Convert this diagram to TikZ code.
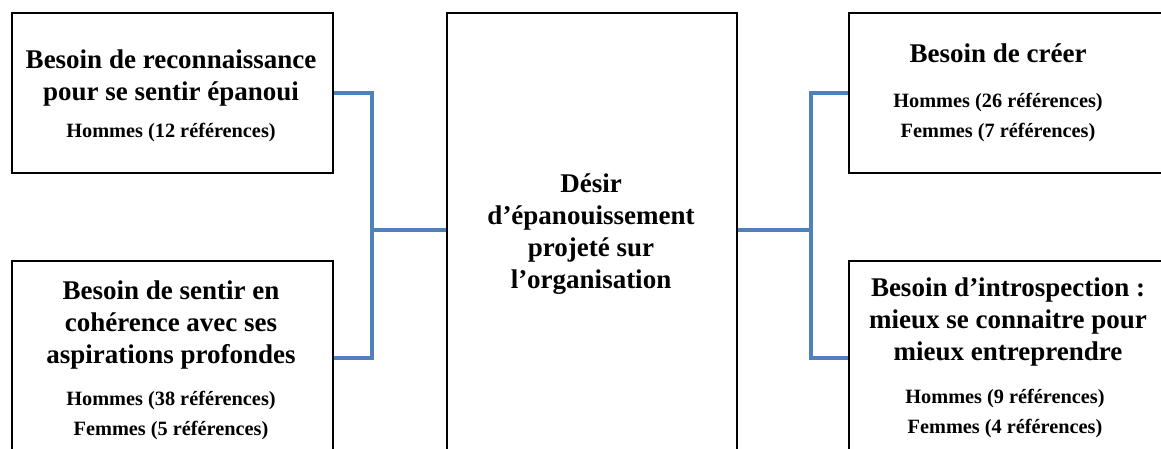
\documentclass[tikz,border=0pt]{standalone}
\usepackage{fontspec}
\setmainfont{Liberation Serif}
\usetikzlibrary{calc, positioning}
\definecolor{linkblue}{HTML}{4F81BD}

\begin{document}
\begin{tikzpicture}[x=1pt, y=-1pt,
  box/.style={draw, line width=1.6pt, anchor=north west, inner sep=0pt},
  link/.style={line width=4pt, linkblue},
  titre/.style={font=\fontsize{27}{32}\selectfont\bfseries, align=center, anchor=base, inner sep=0pt},
  refs/.style={font=\fontsize{20.3}{30}\selectfont\bfseries, align=center, anchor=base, inner sep=0pt}]
\useasboundingbox (0,0) rectangle (1161,448);

\node[box, minimum width=321pt, minimum height=160pt] (tl) at (11,12) {};
\node[box, minimum width=321pt, minimum height=194pt] (bl) at (11,260) {};
\node[box, minimum width=290pt, minimum height=460pt] (ctr) at (446,12) {};
\node[box, minimum width=340pt, minimum height=160pt] (tr) at (848,12) {};
\node[box, minimum width=340pt, minimum height=194pt] (br) at (848,260) {};

\coordinate (lj) at (372,230);
\coordinate (rj) at (811,230);

\draw[link] (tl.east) -| (lj) |- (bl.east);
\draw[link] (lj) -- (lj -| ctr.west);
\draw[link] (tr.west) -| (rj) |- (br.west);
\draw[link] (rj) -- (rj -| ctr.east);

\node[titre] (tlt) at (171,100) {Besoin de reconnaissance\\pour se sentir épanoui};
\node[refs] (tlr) at (171,137) {Hommes (12 références)};

\node[titre] (blt) at (171,363) {Besoin de sentir en\\cohérence avec ses\\aspirations profondes};
\node[refs] (blr) at (171,435) {Hommes (38 références)\\Femmes (5 références)};

\node[titre] (ctrt) at (591,288) {Désir\\d’épanouissement\\projeté sur\\l’organisation};

\node[titre] (trt) at (998,62) {Besoin de créer};
\node[refs] (trr) at (998,137) {Hommes (26 références)\\Femmes (7 références)};

\node[titre] (brt) at (1008,360) {Besoin d’introspection :\\mieux se connaitre pour\\mieux entreprendre};
\node[refs] (brr) at (1005,433) {Hommes (9 références)\\Femmes (4 références)};
\end{tikzpicture}
\end{document}
